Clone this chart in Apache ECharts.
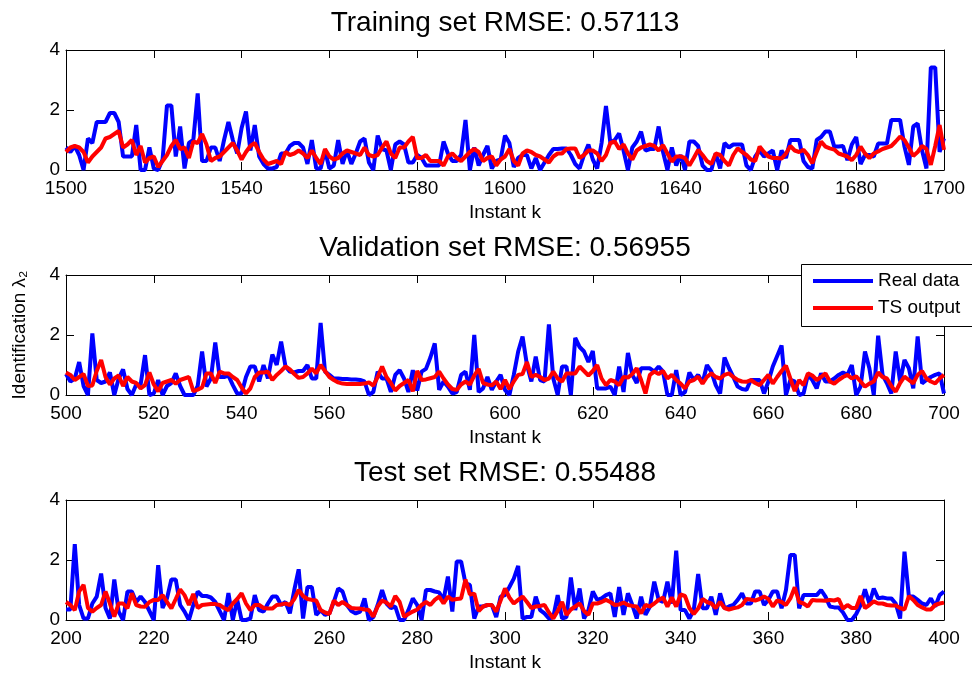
<!DOCTYPE html>
<html>
<head>
<meta charset="utf-8">
<script src="https://cdn.jsdelivr.net/npm/echarts@6/dist/echarts.min.js"></script>
<style>
html,body{margin:0;padding:0;background:#fff;}
#chart{width:972px;height:676px;}
</style>
</head>
<body>
<div id="chart"></div>
<script>
// ---------------- data ----------------
const trainStart = 1500, valStart = 500, testStart = 200;
const titles = ['Training set RMSE: 0.57113', 'Validation set RMSE: 0.56955', 'Test set RMSE: 0.55488'];
const seriesNames = ['Real data', 'TS output'];
const yTicks = [0, 2, 4];

const trainReal = [
0.75,0.6,0.8,0.5,0.0,1.05,0.9,1.6,1.6,1.6,
1.9,1.9,1.6,0.45,0.45,0.45,1.5,0.0,0.0,0.75,
0.05,0.0,0.35,2.15,2.15,0.45,1.45,0.05,0.9,1.0,
2.55,0.3,0.3,0.75,0.75,0.3,1.0,1.6,1.0,0.55,
1.4,1.95,0.65,1.5,0.45,0.2,0.05,0.05,0.1,0.55,
0.55,0.8,0.9,0.9,0.75,0.2,1.0,0.05,0.05,0.65,
0.05,0.15,1.0,0.2,0.65,0.2,0.55,0.95,1.05,0.25,
0.0,1.15,0.7,0.65,0.0,0.85,0.95,0.85,0.25,0.25,
0.5,0.4,0.15,0.15,0.15,0.15,0.95,0.55,0.3,0.3,
0.5,1.67,0.0,0.75,0.15,0.5,0.8,0.05,0.3,0.35,
1.15,0.9,0.1,0.4,0.5,0.5,0.05,0.4,0.0,0.25,
0.5,0.7,0.7,0.72,0.72,0.5,0.2,0.05,0.5,0.85,
0.35,0.05,0.9,2.13,0.9,1.0,1.22,0.65,0.0,0.75,
0.95,1.28,0.65,0.7,0.7,1.45,0.6,0.0,0.75,0.15,
0.5,0.0,0.95,0.95,0.8,0.15,0.0,0.0,0.55,0.05,
0.9,0.75,0.85,0.85,0.85,0.15,0.0,0.45,0.65,0.45,
0.55,0.65,0.0,0.65,0.4,1.0,1.0,1.0,0.3,0.1,
0.05,1.0,1.1,1.28,1.28,0.78,0.78,0.8,0.33,0.85,
1.1,0.2,0.5,0.5,0.45,0.88,0.88,0.88,1.67,1.67,
1.67,0.78,0.17,1.45,1.55,0.65,0.05,3.42,3.42,0.6,
1.05];
const trainTS = [
0.6,0.75,0.8,0.75,0.6,0.25,0.45,0.6,0.75,1.05,
1.1,1.2,1.3,0.75,0.85,1.0,0.5,0.8,0.25,0.4,
0.45,0.1,0.3,0.5,0.8,1.0,0.7,0.75,0.4,0.95,
0.9,1.2,0.85,0.3,0.4,0.45,0.6,0.75,0.9,0.65,
0.35,0.6,0.8,0.9,0.6,0.35,0.2,0.25,0.3,0.2,
0.6,0.5,0.55,0.65,0.55,0.4,0.65,0.4,0.2,0.7,
0.45,0.35,0.4,0.55,0.65,0.6,0.55,0.5,0.75,0.5,
0.45,0.5,0.75,0.95,0.55,0.4,0.75,0.75,0.95,1.1,
0.4,0.4,0.5,0.3,0.3,0.3,0.15,0.45,0.55,0.4,
0.3,0.45,0.6,0.7,0.6,0.3,0.4,0.45,0.15,0.35,
0.45,0.7,0.3,0.15,0.55,0.65,0.6,0.5,0.45,0.35,
0.25,0.45,0.55,0.55,0.7,0.72,0.72,0.4,0.5,0.65,
0.65,0.55,0.3,0.5,0.9,0.95,0.7,0.85,0.55,0.35,
0.65,0.75,0.8,0.85,0.8,0.65,0.83,0.55,0.28,0.45,
0.45,0.4,0.15,0.4,0.67,0.5,0.3,0.2,0.55,0.5,
0.3,0.15,0.5,0.72,0.6,0.5,0.35,0.3,0.78,0.6,
0.45,0.4,0.4,0.38,0.55,0.8,0.65,0.6,0.67,0.5,
0.22,0.6,0.95,0.78,0.72,0.68,0.55,0.5,0.45,0.33,
0.5,0.78,0.55,0.4,0.55,0.62,0.7,0.75,0.8,0.95,
1.11,1.0,0.75,0.47,0.6,0.8,0.7,0.17,0.8,1.5,
0.67];
const valReal = [
0.7,0.45,0.55,1.1,0.3,0.0,2.05,0.5,0.4,0.45,
0.75,0.0,0.55,0.85,0.2,0.0,0.35,0.35,1.33,0.0,
0.05,0.5,0.0,0.3,0.4,0.72,0.3,0.0,0.0,0.0,
0.3,1.45,0.28,0.55,1.75,0.6,0.6,0.65,0.33,0.05,
0.05,0.6,0.95,0.95,0.45,1.0,0.55,1.35,1.0,1.78,
0.95,0.78,0.75,0.8,0.8,1.0,0.55,0.55,2.4,0.78,
0.67,0.55,0.55,0.53,0.53,0.52,0.52,0.5,0.45,0.0,
0.1,0.78,0.55,0.55,0.1,0.67,0.83,0.55,0.1,0.83,
0.15,0.78,0.87,1.25,1.72,0.17,0.45,0.28,0.05,0.1,
0.67,0.78,0.17,2.0,0.1,0.22,0.6,0.17,0.45,0.67,
0.17,0.0,0.67,1.45,1.95,1.0,0.45,1.28,0.5,0.45,
2.35,0.55,0.0,0.95,0.95,0.0,1.9,1.6,1.45,1.1,
1.47,0.22,0.22,0.22,0.28,0.0,0.95,0.1,1.4,0.67,
0.4,0.89,0.89,0.89,0.78,0.95,0.78,0.0,0.0,0.83,
0.0,0.1,0.75,0.5,0.67,0.4,1.0,0.78,0.33,0.05,
1.25,0.9,0.6,0.28,0.2,0.17,0.5,0.5,0.5,0.05,
0.45,0.95,1.3,1.65,0.0,0.5,0.45,0.0,0.05,0.67,
0.5,0.22,0.72,0.45,0.45,0.55,0.67,0.75,0.67,1.0,
0.0,0.28,1.45,0.89,0.0,1.98,0.67,0.39,0.05,1.45,
0.45,1.17,0.89,0.22,1.95,0.39,0.5,0.6,0.67,0.72,
0.05];
const valTS = [
0.75,0.67,0.5,0.6,0.7,0.3,0.32,0.8,1.17,0.6,
0.35,0.55,0.65,0.3,0.6,0.45,0.4,0.22,0.33,0.75,
0.35,0.12,0.4,0.45,0.5,0.38,0.5,0.55,0.6,0.13,
0.18,0.25,0.72,0.72,0.4,0.78,0.72,0.72,0.6,0.5,
0.25,0.05,0.22,0.6,0.75,0.75,0.78,0.5,0.67,0.8,
0.95,0.85,0.7,0.57,0.6,0.72,0.88,0.72,1.0,0.8,
0.6,0.5,0.42,0.38,0.37,0.37,0.37,0.37,0.38,0.42,
0.31,0.6,0.95,0.6,0.4,0.15,0.3,0.4,0.5,0.12,
0.8,0.5,0.52,0.56,0.6,0.78,0.55,0.35,0.2,0.17,
0.35,0.45,0.35,0.65,0.87,0.4,0.35,0.32,0.45,0.2,
0.5,0.2,0.45,0.67,0.7,1.1,0.6,0.67,0.6,0.5,
0.55,0.78,0.55,0.45,0.72,0.72,0.72,0.95,0.8,0.65,
0.8,1.0,0.55,0.33,0.5,0.45,0.33,0.6,0.58,0.7,
0.89,0.5,0.05,0.67,0.78,0.7,0.8,0.55,0.67,0.5,
0.38,0.22,0.45,0.5,0.61,0.38,0.6,0.72,0.6,0.55,
0.67,0.72,0.6,0.5,0.45,0.44,0.5,0.4,0.33,0.5,
0.67,0.38,0.6,0.8,0.98,0.55,0.13,0.5,0.33,0.72,
0.65,0.5,0.6,0.72,0.45,0.38,0.5,0.6,0.67,0.55,
0.62,0.45,0.28,0.38,0.45,0.75,0.6,0.55,0.3,0.11,
0.4,0.61,0.5,0.39,0.67,0.8,0.55,0.45,0.39,0.55,
0.67];
const testReal = [
0.35,0.35,2.53,0.5,0.05,0.05,0.55,0.78,1.55,0.4,
0.05,1.35,0.28,0.0,0.95,0.95,0.6,0.78,0.6,0.3,
0.0,1.83,0.4,0.72,1.35,1.35,0.5,0.28,0.0,0.5,
0.95,0.8,0.8,0.75,0.6,0.3,0.0,0.9,0.0,0.67,
0.0,0.0,0.05,0.83,0.33,0.28,0.55,0.78,0.78,0.5,
0.6,0.22,1.0,1.69,0.05,1.1,1.1,0.17,0.33,0.17,
0.22,0.6,1.05,0.95,0.5,0.3,0.22,0.28,0.72,0.0,
0.1,0.5,1.0,0.55,0.4,0.45,0.0,0.0,0.33,0.72,
0.5,0.0,1.0,1.0,0.95,0.92,0.67,1.45,0.28,1.95,
1.95,1.22,1.17,0.05,0.45,0.45,0.5,0.5,0.1,0.78,
0.83,1.1,1.38,1.8,0.05,0.1,0.1,0.78,0.33,0.22,
0.05,0.1,0.83,0.05,0.1,1.42,0.33,1.05,0.05,0.33,
0.95,0.67,0.72,0.83,0.89,0.1,1.1,0.17,0.89,0.5,
0.05,0.78,0.17,0.45,1.28,0.67,0.6,1.28,0.55,2.31,
0.33,0.33,0.05,0.33,1.53,0.39,0.39,0.78,0.17,0.89,
0.39,0.45,0.5,0.67,0.89,0.55,0.55,0.95,0.95,0.5,
0.67,0.95,0.95,0.39,1.0,2.17,2.17,0.39,0.83,0.83,
0.83,0.83,1.0,0.78,0.45,0.42,0.42,0.25,0.0,0.0,
0.2,0.5,1.02,0.55,1.05,0.72,0.75,0.72,0.72,0.55,
0.05,2.28,0.78,0.78,0.67,0.55,0.5,0.72,0.45,0.83,
0.95];
const testTS = [
0.6,0.5,0.33,0.95,1.17,0.4,0.28,0.4,0.5,0.95,
0.55,0.11,0.55,0.55,0.39,0.89,0.5,0.45,0.44,0.6,
0.67,0.67,0.83,0.6,0.39,0.7,1.02,0.83,0.5,0.87,
0.4,0.5,0.52,0.53,0.53,0.5,0.4,0.33,0.55,0.7,
0.89,0.55,0.33,0.5,0.5,0.4,0.38,0.38,0.5,0.52,
0.55,0.5,0.7,1.0,0.8,0.7,0.67,0.65,0.33,0.25,
0.2,0.65,0.5,0.6,0.5,0.4,0.38,0.38,0.35,0.33,
0.11,0.45,0.65,0.58,0.45,0.8,0.6,0.11,0.2,0.28,
0.35,0.5,0.6,0.5,0.67,0.78,0.55,0.78,0.67,0.7,
0.72,1.35,0.85,0.88,0.3,0.45,0.5,0.5,0.28,0.65,
1.05,0.75,0.55,0.67,0.78,0.6,0.4,0.45,0.47,0.5,
0.25,0.05,0.3,0.6,0.17,0.35,0.45,0.55,0.3,0.17,
0.55,0.55,0.6,0.67,0.6,0.5,0.52,0.58,0.5,0.47,
0.45,0.22,0.5,0.45,0.55,0.67,0.75,0.45,0.75,0.45,
0.85,0.8,0.4,0.2,0.38,0.7,0.6,0.55,0.4,0.6,
0.4,0.35,0.39,0.42,0.5,0.7,0.68,0.65,0.7,0.78,
0.7,0.45,0.65,0.6,0.5,0.72,1.09,0.6,0.55,0.45,
0.67,0.65,0.65,0.64,0.67,0.65,0.7,0.38,0.5,0.4,
0.4,0.8,0.4,0.5,0.62,0.55,0.55,0.5,0.48,0.48,
0.4,0.35,0.8,0.67,0.5,0.42,0.35,0.35,0.5,0.55,
0.58];

// ---------------- chart ----------------
const FONT = '"Liberation Sans", Arial, sans-serif';
const panels = [
  {start: trainStart, real: trainReal, ts: trainTS, top: 50, title: titles[0]},
  {start: valStart, real: valReal, ts: valTS, top: 275, title: titles[1]},
  {start: testStart, real: testReal, ts: testTS, top: 500, title: titles[2]}
];
const L = 66, R = 944, H = 120;
function pairs(start, arr) { return arr.map((v, i) => [start + i, v]); }
const plain = v => String(v);
const legendLine = 'path://M0,0 M0,8 L60,8 L60,12 L0,12 Z M60,20';

const grid = [], xAxis = [], yAxis = [], series = [], graphic = [];
panels.forEach((p, i) => {
  grid.push({left: L, width: R - L, top: p.top, height: H});
  const span = p.real.length - 1;
  const tick = {inside: true, length: 8, lineStyle: {color: '#000', width: 1}};
  const line = {show: true, onZero: false, lineStyle: {color: '#000', width: 1}};
  xAxis.push({
    gridIndex: i, type: 'value', position: 'bottom', min: p.start, max: p.start + span, interval: 20,
    axisLine: line, axisTick: tick, splitLine: {show: false},
    axisLabel: {color: '#000', fontSize: 19, fontFamily: FONT, margin: 9, formatter: plain, showMinLabel: true, showMaxLabel: true},
    name: 'Instant k', nameLocation: 'middle', nameGap: 33,
    nameTextStyle: {color: '#000', fontSize: 19, fontFamily: FONT}
  });
  xAxis.push({
    gridIndex: i, type: 'value', position: 'top', min: p.start, max: p.start + span, interval: 20,
    axisLine: line, axisTick: tick, axisLabel: {show: false}, splitLine: {show: false}
  });
  const yl = {
    gridIndex: i, type: 'value', position: 'left', min: yTicks[0], max: yTicks[yTicks.length - 1], interval: yTicks[1] - yTicks[0],
    axisLine: line, axisTick: tick, splitLine: {show: false},
    axisLabel: {color: '#000', fontSize: 19, fontFamily: FONT, margin: 6, formatter: plain, showMinLabel: true, showMaxLabel: true}
  };
  if (i === 1) {
    yl.name = 'Identification λ₂';
    yl.nameLocation = 'middle';
    yl.nameGap = 37;
    yl.nameRotate = 90;
    yl.nameTextStyle = {color: '#000', fontSize: 19, fontFamily: FONT};
  }
  yAxis.push(yl);
  yAxis.push({
    gridIndex: i, type: 'value', position: 'right', min: yTicks[0], max: yTicks[yTicks.length - 1], interval: yTicks[1] - yTicks[0],
    axisLine: line, axisTick: tick, axisLabel: {show: false}, splitLine: {show: false}
  });
  series.push({
    name: seriesNames[0], type: 'line', xAxisIndex: 2 * i, yAxisIndex: 2 * i,
    data: pairs(p.start, p.real), symbol: 'none', lineStyle: {color: '#0000ff', width: 4},
    itemStyle: {color: '#0000ff'}, z: 2
  });
  series.push({
    name: seriesNames[1], type: 'line', xAxisIndex: 2 * i, yAxisIndex: 2 * i,
    data: pairs(p.start, p.ts), symbol: 'none', lineStyle: {color: '#ff0000', width: 4},
    itemStyle: {color: '#ff0000'}, z: 3
  });
  graphic.push({
    type: 'text', x: (L + R) / 2, y: p.top - 41,
    style: {text: p.title, fontSize: 28, fontFamily: FONT, fill: '#000', align: 'center', verticalAlign: 'top'}
  });
});
// legend frame (runs past the right edge of the picture, as in the reference)
graphic.push({
  type: 'rect', z: 9, shape: {x: 801.5, y: 264.5, width: 200, height: 62},
  style: {fill: '#fff', stroke: '#000', lineWidth: 1}
});

const chart = echarts.init(document.getElementById('chart'), null, {renderer: 'canvas'});
chart.setOption({
  animation: false,
  backgroundColor: '#fff',
  grid, xAxis, yAxis, series, graphic,
  legend: {
    data: seriesNames.map((n, k) => ({name: n, icon: legendLine, itemStyle: {color: k === 0 ? '#0000ff' : '#ff0000', borderWidth: 0}})),
    orient: 'vertical', left: 801, top: 264,
    itemWidth: 60, itemHeight: 20, itemGap: 7, padding: [7, 12, 9, 12],
    borderWidth: 0, backgroundColor: 'transparent', z: 10,
    textStyle: {color: '#000', fontSize: 19, fontFamily: FONT}
  }
});
</script>
</body>
</html>
